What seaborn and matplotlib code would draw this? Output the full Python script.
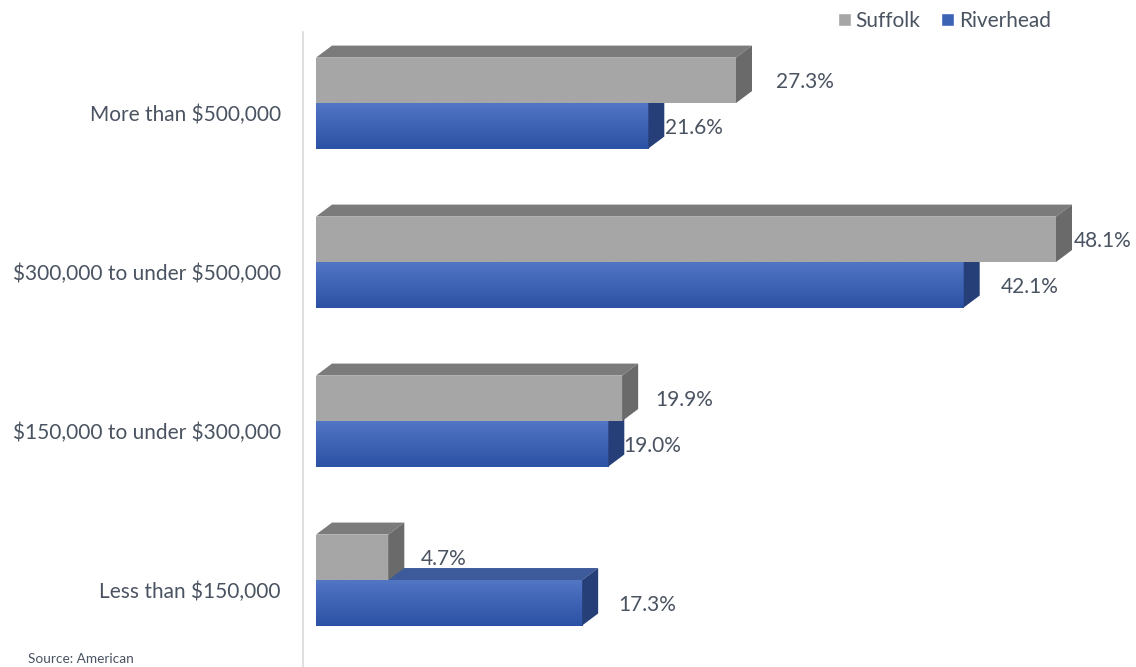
import numpy as np
import pandas as pd
import matplotlib
matplotlib.use("Agg")
import matplotlib.pyplot as plt
import matplotlib.colors as mcolors
import matplotlib.transforms as mtransforms
from matplotlib.patches import Polygon, Rectangle
import seaborn as sns

# Home value brackets and the share of owner-occupied homes in each
categories = ["More than $500,000", "$300,000 to under $500,000",
              "$150,000 to under $300,000", "Less than $150,000"]
series = ["Suffolk", "Riverhead"]
suffolk = [27.3, 48.1, 19.9, 4.7]
riverhead = [21.6, 42.1, 19.0, 17.3]

df = pd.DataFrame({
    "bracket": categories * 2,
    "area": [series[0]] * 4 + [series[1]] * 4,
    "share": suffolk + riverhead,
})

sns.set_theme(style="white")
plt.rcParams["font.family"] = ["Lato", "DejaVu Sans"]
plt.rcParams["text.parse_math"] = False
TEXT = "#4a5361"
FS = 15

front = {"Suffolk": ("#a6a6a6", "#a6a6a6"), "Riverhead": ("#5275c4", "#2c52a5")}
top_c = {"Suffolk": "#7b7b7b", "Riverhead": "#3d5b9a"}
side_c = {"Suffolk": "#6a6a6a", "Riverhead": "#263f78"}

fig = plt.figure(figsize=(11.36, 6.67), dpi=100)
ax = fig.add_axes([303 / 1136, 0, 833 / 1136, 635 / 667])

sns.barplot(data=df, y="bracket", x="share", hue="area", order=categories,
            hue_order=series, orient="h", width=0.572, dodge=True,
            palette={"Suffolk": "#a6a6a6", "Riverhead": "#3d63b5"},
            saturation=1, ax=ax, legend=False, errorbar=None)

ax.set_xlim(-0.845, 53.3)
ax.set_ylim(3.547, -0.447)

# depth of the extruded bars, in pixels
DX, DY = 16, 12
px_x = ax.transData.transform((1, 0))[0] - ax.transData.transform((0, 0))[0]
px_y = ax.transData.transform((0, 0))[1] - ax.transData.transform((0, 1))[1]
ddx, ddy = DX / px_x, DY / px_y

bars = {s: list(c) for s, c in zip(series, ax.containers)}


def extrude(patch, name, z):
    x0, y0 = patch.get_x(), patch.get_y()
    w, h = patch.get_width(), patch.get_height()
    x1, ytop, ybot = x0 + w, y0, y0 + h
    top = Polygon([(x0, ytop), (x1, ytop), (x1 + ddx, ytop - ddy), (x0 + ddx, ytop - ddy)],
                  closed=True, facecolor=top_c[name], edgecolor="none", zorder=z)
    side = Polygon([(x1, ytop), (x1, ybot), (x1 + ddx, ybot - ddy), (x1 + ddx, ytop - ddy)],
                   closed=True, facecolor=side_c[name], edgecolor="none", zorder=z + 0.2)
    ax.add_patch(top)
    ax.add_patch(side)
    patch.set_zorder(z + 0.1)
    patch.set_edgecolor("none")
    # vertical shading on the front face
    c1, c2 = front[name]
    grad = mcolors.LinearSegmentedColormap.from_list(name, [c1, c2])
    img = ax.imshow(np.linspace(0, 1, 64).reshape(-1, 1), cmap=grad, aspect="auto",
                    extent=(x0, x1, ybot, ytop), origin="upper", zorder=z + 0.15)
    img.set_clip_path(patch)


for p in bars["Riverhead"]:
    extrude(p, "Riverhead", 2)
for p in bars["Suffolk"]:
    extrude(p, "Suffolk", 4)
ax.set_xlim(-0.845, 53.3)
ax.set_ylim(3.547, -0.447)

# value labels beside each bar (pixel offsets from the front face end)
pads = {"Suffolk": [40, 18, 33, 32], "Riverhead": [17, 37, 15, 36]}
for name in series:
    for i, p in enumerate(bars[name]):
        v = p.get_width()
        yc = p.get_y() + p.get_height() / 2
        ax.annotate(f"{v:.1f}%", xy=(v, yc), xytext=(pads[name][i], -2),
                    textcoords="offset pixels", ha="left", va="center",
                    fontsize=FS, color=TEXT, zorder=10)

ax.set_xlabel("")
ax.set_ylabel("")
ax.set_xticks([])
ax.tick_params(axis="y", length=0, pad=16, labelsize=FS, labelcolor=TEXT)
shift = mtransforms.ScaledTranslation(0, -10 / 100, fig.dpi_scale_trans)
for lab in ax.get_yticklabels():
    lab.set_transform(lab.get_transform() + shift)
for s in ["top", "right", "bottom"]:
    ax.spines[s].set_visible(False)
ax.spines["left"].set_color("#d9d9d9")
ax.spines["left"].set_linewidth(1.2)

# legend
handles = [Rectangle((0, 0), 1, 1, facecolor="#a6a6a6"),
           Rectangle((0, 0), 1, 1, facecolor="#3d63b5")]
fig.legend(handles, series, loc="center left", bbox_to_anchor=(838 / 1136, 1 - 21 / 667),
           ncol=2, frameon=False, fontsize=FS, labelcolor=TEXT,
           handlelength=0.6, handleheight=0.6, handletextpad=0.25, columnspacing=1.0,
           borderaxespad=0, borderpad=0)

fig.text(28 / 1136, 1 - 659 / 667, "Source: American", fontsize=9.8, color=TEXT,
         va="center", ha="left")

fig.savefig("out.png", dpi=100)
